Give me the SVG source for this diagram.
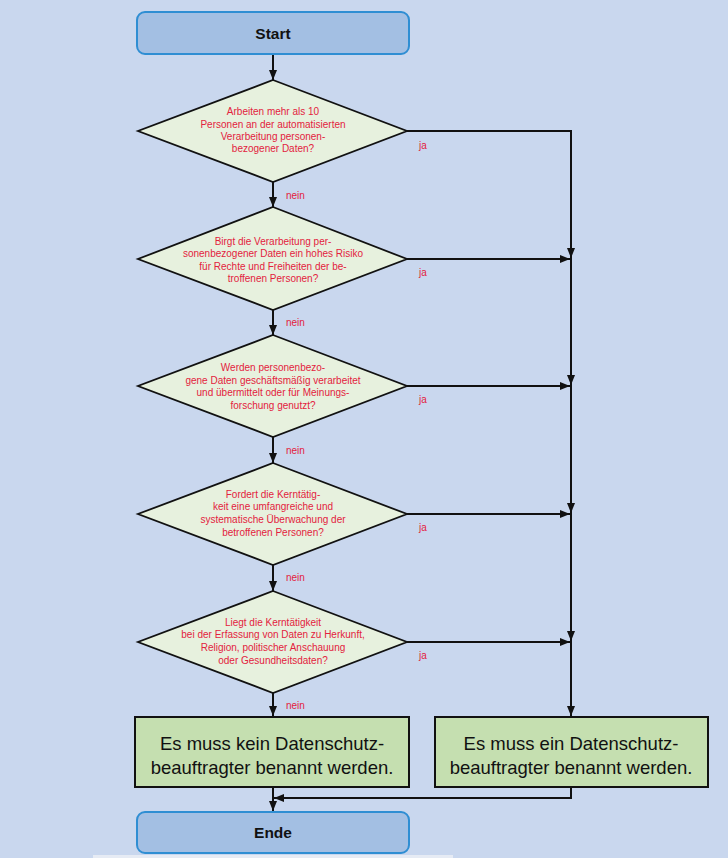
<svg xmlns="http://www.w3.org/2000/svg" width="728" height="858" viewBox="0 0 728 858">
<defs>
<marker id="ah" viewBox="0 0 10 8" refX="10" refY="4" markerWidth="10" markerHeight="8" markerUnits="userSpaceOnUse" orient="auto">
<path d="M0,0 L10,4 L0,8 Z" fill="#111"/>
</marker>
</defs>
<style>
.term{fill:#a3bfe3;stroke:#2f8ed3;stroke-width:2}
.dia{fill:#e7f1de;stroke:#111;stroke-width:1.8}
.box{fill:#c5dfb0;stroke:#111;stroke-width:2}
.q{font-family:"Liberation Sans",Arial,sans-serif;font-size:10px;fill:#e3223d;text-anchor:middle}
.lab{font-family:"Liberation Sans",Arial,sans-serif;font-size:10px;fill:#e3223d}
.tt{font-family:"Liberation Sans",Arial,sans-serif;font-size:15.5px;font-weight:bold;fill:#111;text-anchor:middle}
.bt{font-family:"Liberation Sans",Arial,sans-serif;font-size:18.5px;fill:#111;text-anchor:middle}
.ln{fill:none;stroke:#111;stroke-width:2}
.la{fill:none;stroke:#111;stroke-width:2;marker-end:url(#ah)}
</style>
<rect x="0" y="0" width="728" height="858" fill="#c9d7ee"/>
<rect x="93" y="855" width="360" height="3" fill="#e6ebf4"/>

<g id="connectors">
<line class="la" x1="273" y1="55" x2="273" y2="80"/>
<line class="la" x1="273" y1="182" x2="273" y2="207"/>
<line class="la" x1="273" y1="310" x2="273" y2="335"/>
<line class="la" x1="273" y1="437" x2="273" y2="463"/>
<line class="la" x1="273" y1="565" x2="273" y2="591"/>
<line class="la" x1="273" y1="693" x2="273" y2="716"/>
<polyline class="ln" points="407,131 571,131 571,716"/>
<line class="la" x1="571" y1="131" x2="571" y2="258"/>
<line class="la" x1="571" y1="259" x2="571" y2="385"/>
<line class="la" x1="571" y1="386" x2="571" y2="513"/>
<line class="la" x1="571" y1="514" x2="571" y2="641"/>
<line class="la" x1="571" y1="642" x2="571" y2="716"/>
<line class="la" x1="407" y1="259" x2="570" y2="259"/>
<line class="la" x1="407" y1="386" x2="570" y2="386"/>
<line class="la" x1="407" y1="514" x2="570" y2="514"/>
<line class="la" x1="407" y1="642" x2="570" y2="642"/>
<line class="la" x1="273" y1="787" x2="273" y2="811"/>
<polyline class="la" points="571,787 571,798 274,798"/>
<text class="lab" x="286" y="199">nein</text>
<text class="lab" x="286" y="326">nein</text>
<text class="lab" x="286" y="454">nein</text>
<text class="lab" x="286" y="581">nein</text>
<text class="lab" x="286" y="709">nein</text>
<text class="lab" x="419" y="149">ja</text>
<text class="lab" x="419" y="276">ja</text>
<text class="lab" x="419" y="403">ja</text>
<text class="lab" x="419" y="531">ja</text>
<text class="lab" x="419" y="659">ja</text>
</g>

<g id="start">
<rect class="term" x="137" y="12" width="272" height="42" rx="8"/>
<text class="tt" x="273" y="39">Start</text>
</g>

<g id="q1">
<polygon class="dia" points="273,80 407,131 273,182 138,131"/>
<text class="q" x="273" y="115">Arbeiten mehr als 10</text>
<text class="q" x="273" y="128">Personen an der automatisierten</text>
<text class="q" x="273" y="140">Verarbeitung personen-</text>
<text class="q" x="273" y="152">bezogener Daten?</text>
</g>

<g id="q2">
<polygon class="dia" points="273,207 407,259 273,310 138,259"/>
<text class="q" x="273" y="245">Birgt die Verarbeitung per-</text>
<text class="q" x="273" y="257">sonenbezogener Daten ein hohes Risiko</text>
<text class="q" x="273" y="270">für Rechte und Freiheiten der be-</text>
<text class="q" x="273" y="282">troffenen Personen?</text>
</g>

<g id="q3">
<polygon class="dia" points="273,335 407,386 273,437 138,386"/>
<text class="q" x="273" y="371">Werden personenbezo-</text>
<text class="q" x="273" y="384">gene Daten geschäftsmäßig verarbeitet</text>
<text class="q" x="273" y="396">und übermittelt oder für Meinungs-</text>
<text class="q" x="273" y="409">forschung genutzt?</text>
</g>

<g id="q4">
<polygon class="dia" points="273,463 407,514 273,565 138,514"/>
<text class="q" x="273" y="498">Fordert die Kerntätig-</text>
<text class="q" x="273" y="510">keit eine umfangreiche und</text>
<text class="q" x="273" y="523">systematische Überwachung der</text>
<text class="q" x="273" y="536">betroffenen Personen?</text>
</g>

<g id="q5">
<polygon class="dia" points="273,591 407,642 273,693 138,642"/>
<text class="q" x="273" y="626">Liegt die Kerntätigkeit</text>
<text class="q" x="273" y="638">bei der Erfassung von Daten zu Herkunft,</text>
<text class="q" x="273" y="651">Religion, politischer Anschauung</text>
<text class="q" x="273" y="664">oder Gesundheitsdaten?</text>
</g>

<g id="no-dsb">
<rect class="box" x="135" y="717" width="274" height="70"/>
<text class="bt" x="272" y="750">Es muss kein Datenschutz-</text>
<text class="bt" x="272" y="774">beauftragter benannt werden.</text>
</g>

<g id="dsb">
<rect class="box" x="435" y="717" width="273" height="70"/>
<text class="bt" x="571" y="750">Es muss ein Datenschutz-</text>
<text class="bt" x="571" y="774">beauftragter benannt werden.</text>
</g>

<g id="ende">
<rect class="term" x="137" y="812" width="272" height="41" rx="8"/>
<text class="tt" x="273" y="838">Ende</text>
</g>
</svg>
